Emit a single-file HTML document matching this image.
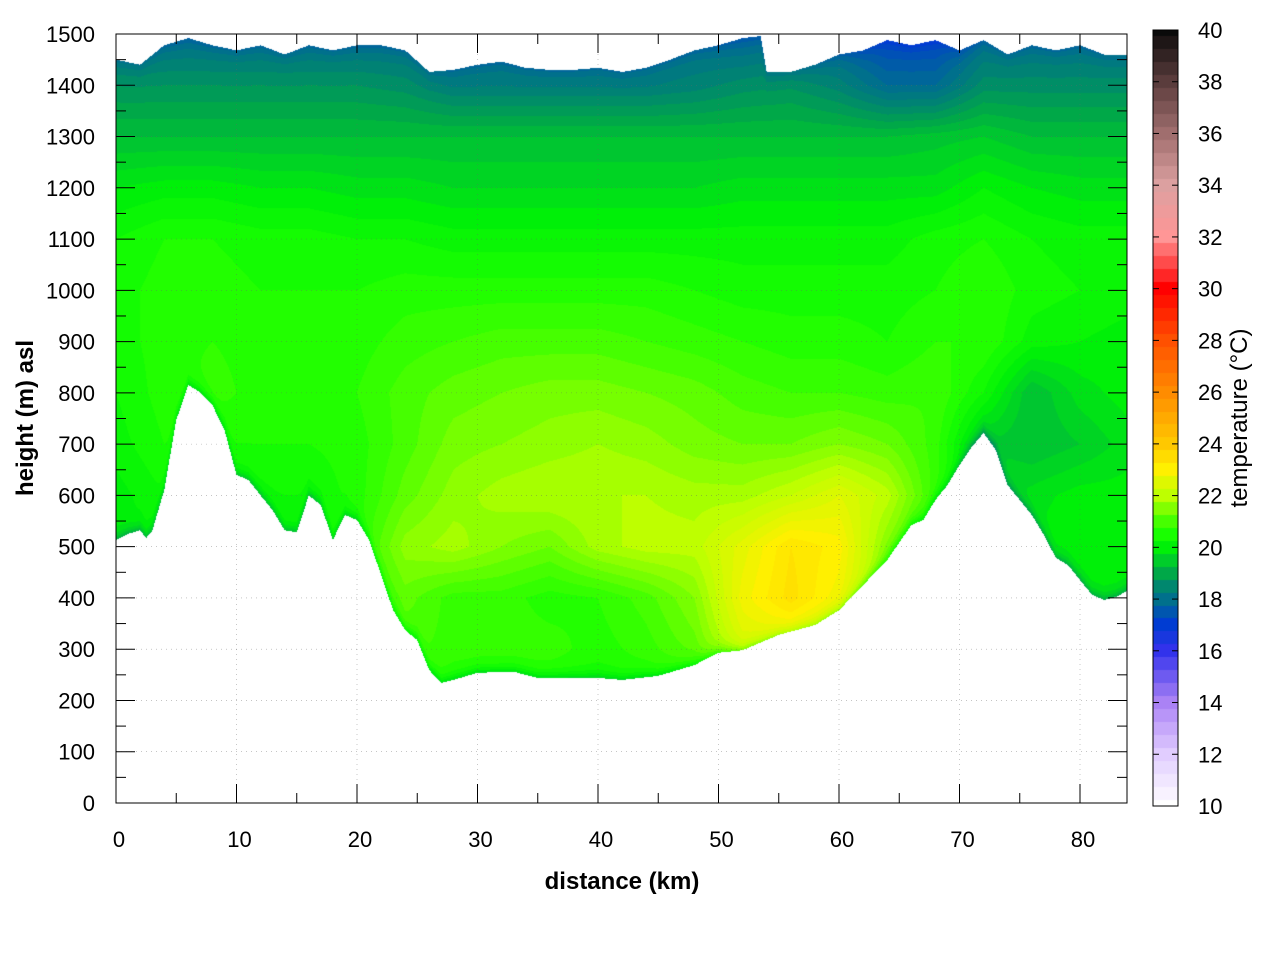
<!DOCTYPE html>
<html><head><meta charset="utf-8"><style>
body{margin:0;background:#fff;width:1280px;height:960px;overflow:hidden;position:relative;font-family:"Liberation Sans",sans-serif}
canvas,svg{position:absolute;left:0;top:0}
</style></head><body>
<canvas id="cv" width="1280" height="960"></canvas>
<svg id="sv" width="1280" height="960"></svg>
<script>
// ---- data ----
const colKm = [0,4,8,12,16,20,24,28,32,36,40,44,48,52,56,60,64,68,72,76,80,84];
const rowH = [1500,1400,1300,1200,1100,1000,900,800,700,600,500,400,300,200];
const t1500=[18,18,18,18,18,18,18,18,18,18,18,18,18,17.8,18,17.8,17.2,17.2,18,18,18,18];
const t1400=[18.7,18.7,18.7,18.7,18.7,18.7,18.6,18.3,18.3,18.3,18.3,18.3,18.4,18.6,18.7,18.4,17.9,17.9,18.6,18.6,18.6,18.6];
const t1300=[19.3,19.3,19.3,19.3,19.3,19.3,19.3,19.3,19.3,19.3,19.3,19.3,19.3,19.3,19.3,19.3,19.3,19.4,19.5,19.3,19.3,19.3];
const t1200=[19.9,20,20,19.9,19.9,19.8,19.8,19.7,19.7,19.7,19.7,19.7,19.7,19.8,19.8,19.8,19.8,19.8,20.1,19.9,19.8,19.8];
const t1100=[20.3,20.5,20.5,20.4,20.4,20.3,20.3,20.2,20.2,20.2,20.2,20.2,20.2,20.2,20.2,20.2,20.2,20.4,20.5,20.3,20.2,20.2];
const t1000=[20.4,20.6,20.6,20.5,20.5,20.5,20.6,20.6,20.6,20.6,20.6,20.6,20.5,20.4,20.4,20.4,20.4,20.5,20.7,20.4,20.3,20.2];
const t900=[20.4,20.6,20.7,20.6,20.6,20.6,20.8,20.9,21,21,21,20.9,20.8,20.7,20.6,20.6,20.5,20.7,20.7,20.2,20.1,20];
const t800=[20.3,20.6,20.8,20.6,20.6,20.7,21,21.2,21.3,21.4,21.4,21.3,21.2,21,20.9,20.9,20.8,20.9,20.3,19.3,19.8,20];
const t700=[20.2,20.5,20.5,20.5,20.5,20.6,21,21.4,21.5,21.6,21.7,21.6,21.4,21.3,21.3,21.5,21.3,20.8,19.5,19.3,19.5,19.8];
const t600=[20,20.3,20.3,20.3,20.3,20.6,21.2,21.6,21.8,21.9,21.9,21.9,21.8,21.8,22.1,22.5,22,20.8,19.8,19.8,20,20];
const t500=[20,20.2,20.3,20.3,20.3,20.7,21.6,21.8,21.5,21.3,21.8,22,22,22.6,23.3,23,21.5,20.5,20,20,20,20];
const t400=[20,20,20,20,20,20.5,21.2,20.8,20.8,20.6,20.7,21,21.5,22.8,23.4,22.8,21.5,20.5,20,20,20,20];
const t300=[20,20,20,20,20,20.5,21,20.8,20.8,20.8,20.6,20.8,21.2,22.4,22.5,22,21,20.5,20,20,20,20];
const t200=[20,20,20,20,20,20.5,20.8,20.6,20.6,20.6,20.5,20.6,20.8,21,21,21,20.5,20,20,20,20,20];
const tempRows=[t1500,t1400,t1300,t1200,t1100,t1000,t900,t800,t700,t600,t500,t400,t300,t200];
const groundKm=[0,1,2,2.5,3,4,5,6,7,8,9,10,11,12,13,14,15,16,17,18,19,20,21,22,23,24,25,26,27,28,30,33,35,40,42,45,48,50,52,55,58,60,62,64,66,67,68,69,70,71,72,73,74,75,76,77,78,79,80,81,82,83,84];
const groundH=[513,525,532,517,530,610,747,815,801,776,728,640,630,600,571,532,528,600,581,513,562,552,513,445,376,337,318,259,234,240,254,256,244,244,240,248,269,293,298,328,347,376,425,474,542,552,591,620,659,694,722,689,620,591,562,523,478,464,435,406,396,402,415];
const topKm=[0,2,4,6,8,10,12,14,16,18,20,22,24,26,28,30,32,34,36,38,40,42,44,46,48,50,52,53.5,54,56,58,60,62,64,66,68,70,72,74,76,78,80,82,84];
const topH=[1450,1440,1478,1492,1478,1468,1478,1460,1478,1468,1478,1478,1468,1426,1430,1440,1446,1434,1430,1430,1434,1426,1434,1450,1468,1478,1492,1496,1426,1426,1440,1460,1468,1488,1478,1488,1468,1488,1460,1478,1468,1478,1460,1460];
const xTicks=[0,10,20,30,40,50,60,70,80];
const yTicks=[0,100,200,300,400,500,600,700,800,900,1000,1100,1200,1300,1400,1500];
const cbTicks=[10,12,14,16,18,20,22,24,26,28,30,32,34,36,38,40];

// ---- axes ----
const L=116,R=1127,T=34,B=803, XMAX=83.9, YMAX=1500;
const xs=k=>L+(R-L)*k/XMAX, ys=h=>B-(B-T)*h/YMAX;
const CBL=1153,CBR=1178,CBT=30,CBB=806;
const cy=t=>CBB-(CBB-CBT)*(t-10)/30;

const stops=[[10,255,255,255],[12,225,205,255],[14,170,130,245],[16,50,50,235],[17,0,60,210],[18,0,112,140],[18.5,0,135,110],[19,0,168,72],[19.5,0,205,42],[20,0,240,8],[20.5,25,255,0],[21,70,255,0],[22,190,255,0],[23,255,240,0],[24,255,200,0],[26,255,140,0],[28,255,80,0],[30,255,0,0],[32,255,150,150],[34,220,160,160],[36,160,110,110],[38,90,60,60],[40,10,10,10]];
function cmap(t){
  if(t<=stops[0][0])return stops[0].slice(1);
  for(let i=1;i<stops.length;i++){if(t<=stops[i][0]){const a=stops[i-1],b=stops[i],f=(t-a[0])/(b[0]-a[0]);return [0,1,2].map(j=>a[j+1]+(b[j+1]-a[j+1])*f);}}
  return stops[stops.length-1].slice(1);
}
function interp(xa,ya,x){if(x<=xa[0])return ya[0];for(let i=1;i<xa.length;i++)if(x<=xa[i]){const f=(x-xa[i-1])/(xa[i]-xa[i-1]);return ya[i-1]+(ya[i]-ya[i-1])*f;}return ya[ya.length-1];}
function temp(k,h){
  let ci=Math.min(Math.max(k/4,0),colKm.length-1.001);const c0=Math.floor(ci),fc=ci-c0;
  let ri=Math.min(Math.max((1500-h)/100,0),rowH.length-1.001);const r0=Math.floor(ri),fr=ri-r0;
  const a=tempRows[r0][c0]*(1-fc)+tempRows[r0][c0+1]*fc;
  const b=tempRows[r0+1][c0]*(1-fc)+tempRows[r0+1][c0+1]*fc;
  return a*(1-fr)+b*fr;
}
const cv=document.getElementById('cv'),ctx=cv.getContext('2d');
ctx.fillStyle='#fff';ctx.fillRect(0,0,1280,960);
const img=ctx.getImageData(0,0,1280,960),d=img.data;
for(let px=L;px<R;px++){
  const k=(px+0.5-L)/(R-L)*XMAX;
  const g=interp(groundKm,groundH,k), tp=interp(topKm,topH,k);
  for(let py=T;py<B;py++){
    const h=(B-py-0.5)/(B-T)*YMAX;
    if(h<g||h>tp)continue;
    let t=temp(k,h);
    t-=1.0*Math.exp(-(h-g)/12);
    t-=0.4*Math.exp(-(tp-h)/15);
    t=Math.round(t*5)/5;
    const c=cmap(t),o=(py*1280+px)*4;d[o]=c[0];d[o+1]=c[1];d[o+2]=c[2];
  }
}
// colorbar
for(let py=CBT;py<CBB;py++){const t=Math.round((10+30*(CBB-py-0.5)/(CBB-CBT))*2)/2;const c=cmap(t);
  for(let px=CBL;px<CBR;px++){const o=(py*1280+px)*4;d[o]=c[0];d[o+1]=c[1];d[o+2]=c[2];}}
ctx.putImageData(img,0,0);

const sv=document.getElementById('sv'),NS='http://www.w3.org/2000/svg';
function el(tag,at,txt){const e=document.createElementNS(NS,tag);for(const k in at)e.setAttribute(k,at[k]);if(txt!==undefined)e.textContent=txt;sv.appendChild(e);return e;}
// grid
xTicks.forEach(v=>{if(v>0){const g=el('line',{x1:xs(v),x2:xs(v),y1:T,y2:B,stroke:'#666','stroke-width':0.6,'stroke-dasharray':'1,4','stroke-opacity':0.6});

}});
yTicks.forEach(v=>{if(v>0&&v<1500){const g=el('line',{x1:L,x2:R,y1:ys(v),y2:ys(v),stroke:'#666','stroke-width':0.6,'stroke-dasharray':'1,4','stroke-opacity':0.6});

}});
// ticks
for(let v=0;v<=83;v+=5){const M=v%10===0,len=M?19:10;
 el('line',{x1:xs(v),x2:xs(v),y1:B,y2:B-len,stroke:'#000','stroke-width':1});
 el('line',{x1:xs(v),x2:xs(v),y1:T,y2:T+len,stroke:'#000','stroke-width':1});}
for(let v=0;v<=1500;v+=50){const M=v%100===0,len=M?19:10;
 el('line',{x1:L,x2:L+len,y1:ys(v),y2:ys(v),stroke:'#000','stroke-width':1});
 el('line',{x1:R,x2:R-len,y1:ys(v),y2:ys(v),stroke:'#000','stroke-width':1});}
const fr=el('rect',{x:L,y:T,width:R-L,height:B-T,fill:'none',stroke:'#000','stroke-width':1});


xTicks.forEach(v=>{const t=el('text',{x:xs(v)+3,y:847,'text-anchor':'middle','font-size':22},String(v));

});
yTicks.forEach(v=>{const t=el('text',{x:95,y:ys(v)+8,'text-anchor':'end','font-size':22},String(v));

});
const xt=el('text',{x:622,y:889,'text-anchor':'middle','font-size':24,'font-weight':'bold'},'distance (km)');


const yt=el('text',{x:0,y:0,'text-anchor':'middle','font-size':24,'font-weight':'bold',transform:'translate(33,418) rotate(-90)'},'height (m) asl');


// colorbar
const cbf=el('rect',{x:CBL,y:CBT,width:CBR-CBL,height:CBB-CBT,fill:'none',stroke:'#000','stroke-width':1});


cbTicks.forEach(v=>{el('line',{x1:CBL,x2:CBL+6,y1:cy(v),y2:cy(v),stroke:'#000'});el('line',{x1:CBR,x2:CBR-6,y1:cy(v),y2:cy(v),stroke:'#000'});
 const t=el('text',{x:1198,y:cy(v)+8,'font-size':22},String(v));

});
const ct=el('text',{x:0,y:0,'text-anchor':'middle','font-size':24,transform:'translate(1247,418) rotate(-90)'},'temperature (°C)');


</script>
</body></html>
